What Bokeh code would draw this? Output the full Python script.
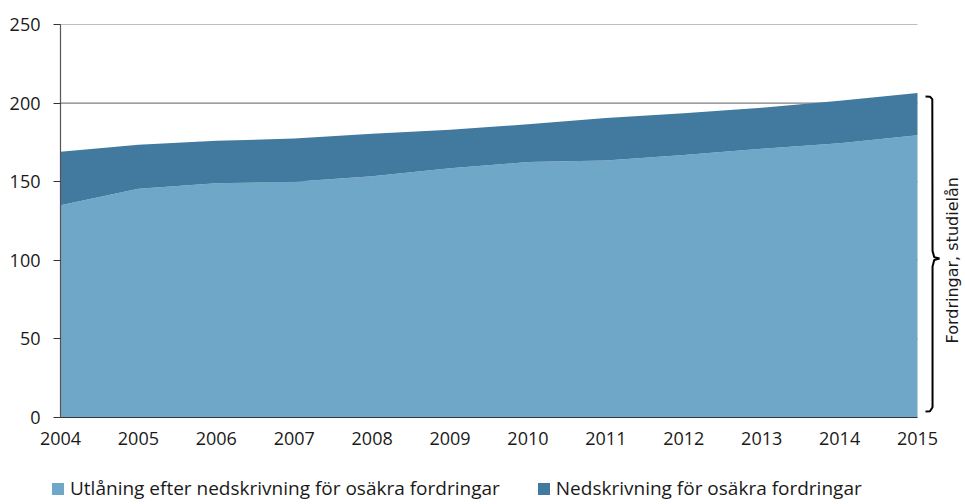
import math
from bokeh.plotting import figure
from bokeh.layouts import column
from bokeh.models import (ColumnDataSource, Range1d, FixedTicker, Legend, LegendItem)
from bokeh.embed import file_html
from bokeh.resources import INLINE

years = [2004, 2005, 2006, 2007, 2008, 2009, 2010, 2011, 2012, 2013, 2014, 2015]
utlaning = [135, 145.5, 149, 150, 153.5, 158.5, 162.5, 163.5, 167, 171, 174.5, 179.5]
nedskrivning = [34, 28, 27, 27.5, 27, 24.5, 24, 27, 26.5, 26, 27, 27]
y_ticks = [0, 50, 100, 150, 200, 250]
series_names = ["Utlåning efter nedskrivning för osäkra fordringar",
                "Nedskrivning för osäkra fordringar"]
brace_label = "Fordringar, studielån"

colors = ["#6fa7c9", "#427a9f"]
FONT = "Open Sans"
TXT = "#1a1a1a"

W = 965
LEFT = 60
PX_PER_YEAR = 857 / 11.0
x_end = years[0] + (W - LEFT) / PX_PER_YEAR

source = ColumnDataSource(dict(year=years, utl=utlaning, ned=nedskrivning))

p = figure(width=W, height=458, output_backend="svg", toolbar_location=None,
           x_range=Range1d(years[0], x_end), y_range=Range1d(0, 250),
           min_border_left=LEFT, min_border_right=0, min_border_top=24,
           min_border_bottom=41)
p.outline_line_color = None
p.background_fill_color = "white"
p.xgrid.grid_line_color = None
p.ygrid.grid_line_color = None

# horizontal grid lines limited to the data span
p.segment(x0=[years[0]] * len(y_ticks), x1=[years[-1]] * len(y_ticks),
          y0=y_ticks, y1=y_ticks, line_color="#7f7f7f", line_width=1.2)

rs = p.varea_stack(["utl", "ned"], x="year", source=source, color=colors)

# axes
p.xaxis.ticker = FixedTicker(ticks=years)
p.xaxis.bounds = (years[0], years[-1])
p.yaxis.ticker = FixedTicker(ticks=y_ticks)
for ax in (p.xaxis[0], p.yaxis[0]):
    ax.major_label_text_font = FONT
    ax.major_label_text_font_size = "18px"
    ax.major_label_text_color = TXT
    ax.minor_tick_line_color = None
p.xaxis.axis_line_color = "#333333"
p.xaxis.axis_line_width = 1.2
p.xaxis.major_tick_line_color = None
p.xaxis.major_tick_out = 0
p.xaxis.major_tick_in = 0
p.xaxis.major_label_standoff = 14
p.yaxis.axis_line_color = "#555555"
p.yaxis.axis_line_width = 1.2
p.yaxis.major_tick_line_color = "#333333"
p.yaxis.major_tick_out = 7
p.yaxis.major_tick_in = 0
p.yaxis.major_label_standoff = 13

# brace on the right
bx = [2015.103, 2015.16, 2015.19, 2015.193, 2015.215, 2015.282,
      2015.215, 2015.193, 2015.193, 2015.16, 2015.103]
by = [204.2, 204.0, 202.5, 106.0, 102.0, 101.1, 100.2, 96.0, 6.5, 4.0, 3.8]
p.line(bx, by, line_color="black", line_width=2)
p.text(x=[2015.45], y=[100.0], text=[brace_label], angle=math.pi / 2,
       text_align="center", text_baseline="middle",
       text_font={"value": "DejaVu Sans"}, text_font_size="16px", text_color=TXT)

# legend in its own strip below
lg = figure(width=W, height=45, output_backend="svg", toolbar_location=None,
            x_range=Range1d(0, 1), y_range=Range1d(1000, 1001),
            min_border_left=0, min_border_right=0, min_border_top=0,
            min_border_bottom=0)
if "frame_align" in lg.properties():
    lg.frame_align = False
    p.frame_align = False
lg.axis.visible = False
lg.grid.visible = False
lg.outline_line_color = None
lrs = lg.varea_stack(["utl", "ned"], x="year", source=source, color=colors)
legend = Legend(items=[LegendItem(label=series_names[0], renderers=[lrs[0]]),
                       LegendItem(label=series_names[1], renderers=[lrs[1]])],
                orientation="horizontal", location=(50, 2),
                label_text_font=FONT, label_text_font_size="19px",
                label_text_color=TXT, glyph_width=15, glyph_height=15,
                label_standoff=5, spacing=36, padding=0, margin=0,
                border_line_color=None, background_fill_alpha=0)
lg.add_layout(legend)

layout = column(p, lg, spacing=0)
open("out.html", "w").write(file_html(layout, INLINE))
